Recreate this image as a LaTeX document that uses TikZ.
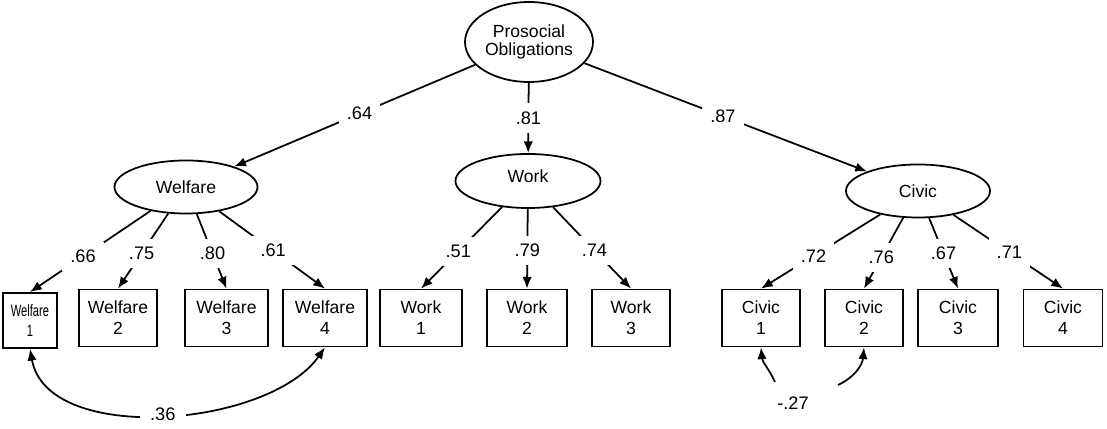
\documentclass[tikz,border=0pt]{standalone}
\usepackage{fontspec}
\setmainfont{Liberation Sans}
\newfontfamily\narrowfont[FakeStretch=0.68]{Liberation Sans}
\usetikzlibrary{shapes.geometric,arrows.meta}
\begin{document}
\begin{tikzpicture}[x=0.03cm, y=0.03cm,
  latent/.style={draw, ellipse, line width=1.5pt, inner sep=0pt, align=center,
    font=\fontsize{15}{15.5}\selectfont},
  obs/.style={draw, rectangle, line width=1.5pt, inner sep=0pt, align=center,
    minimum height=1.71cm, font=\fontsize{15}{18}\selectfont},
  load/.style={line width=1.5pt, -{Latex[length=10pt,width=8pt]}},
  wt/.style={fill=white, inner sep=7pt, font=\fontsize{15.5}{16}\selectfont}]
\useasboundingbox (0,0) rectangle (1107,429);
% factors
\node[latent, minimum width=3.84cm, minimum height=2.4cm] (pro) at (529,387) {Prosocial\\Obligations};
\node[latent, minimum width=4.29cm, minimum height=1.59cm] (wel) at (186,242) {Welfare};
\node[latent, minimum width=4.35cm, minimum height=1.62cm] (wrk) at (528,248) {\raisebox{8pt}{Work}};
\node[latent, minimum width=4.32cm, minimum height=1.59cm] (civ) at (918,238) {Civic};
% items
\node[obs, minimum width=1.62cm, minimum height=1.65cm,
  font=\narrowfont\fontsize{14}{17}\selectfont] (wel1) at (30,108.5) {Welfare\\1};
\foreach \n/\x/\w/\t/\k in {wel2/118/2.34/Welfare/2, wel3/226.5/2.49/Welfare/3,
    wel4/325/2.52/Welfare/4, wrk1/421/2.46/Work/1, wrk2/527/2.4/Work/2,
    wrk3/631/2.34/Work/3, civ1/761/2.34/Civic/1, civ2/864/2.34/Civic/2,
    civ3/958/2.4/Civic/3, civ4/1063/2.37/Civic/4}
  \node[obs, minimum width=\w cm] (\n) at (\x,111) {\t\\\k};
% second order loadings
\draw[load] (pro) -- node[wt, pos=.48]{.64} (wel);
\draw[load] (pro) -- node[wt]{.81} (wrk);
\draw[load] (pro) -- node[wt, pos=.49]{.87} (civ);
% first order loadings
\foreach \a/\b/\v/\p in {wel/wel1/.66/.56, wel/wel2/.75/.53, wel/wel3/.80/.53,
    wel/wel4/.61/.51, wrk/wrk1/.51/.54, wrk/wrk2/.79/.52, wrk/wrk3/.74/.53,
    civ/civ1/.72/.56, civ/civ2/.76/.56, civ/civ3/.67/.5, civ/civ4/.71/.51}
  \draw[load] (\a) -- node[wt, pos=\p]{\v} (\b.north);
% correlated errors
\draw[load, {Latex[length=10pt,width=8pt]}-{Latex[length=10pt,width=8pt]}]
  (wel1.south) to[out=-80, in=-125, looseness=.85] node[wt, inner xsep=9pt]{.36} (wel4.south);
\coordinate (cv1) at (775,47);
\coordinate (cv2) at (838,44);
\draw[load] (cv1) to[out=115, in=-85] (civ1.south);
\draw[load] (cv2) to[out=25, in=-95] (civ2.south);
\node[font=\fontsize{15.5}{16}\selectfont] (cov) at (793,26) {-.27};
\end{tikzpicture}
\end{document}
